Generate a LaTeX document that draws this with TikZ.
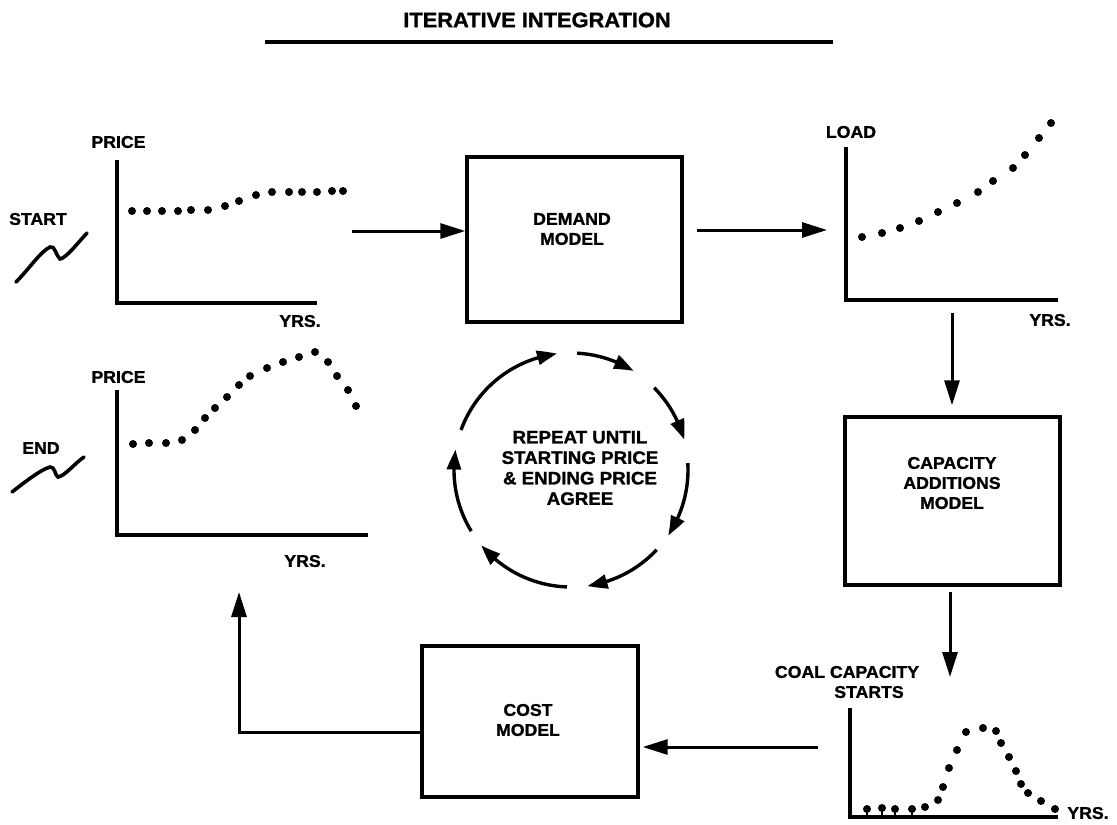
\documentclass[tikz,border=0pt]{standalone}
\usepackage{fontspec}
\setmainfont{Liberation Sans}[BoldFeatures={FakeBold=1.3,FakeStretch=1.04}]
\usetikzlibrary{arrows.meta,bending}
\begin{document}
\begin{tikzpicture}[x=1pt,y=-1pt,
  lbl/.style={font=\fontsize{17}{20}\selectfont\bfseries, inner sep=0pt, align=center},
  ttl/.style={font=\fontsize{21}{24}\selectfont\bfseries, inner sep=0pt},
  box/.style={draw, line width=3.4pt, rectangle, inner sep=0pt},
  axis/.style={line width=3.4pt, line join=miter},
  arr/.style={line width=3pt, line join=miter, -{Triangle[length=25pt,width=15pt]}},
  carr/.style={line width=3.4pt, -{Triangle[length=20pt,width=14pt,bend]}},
  squig/.style={line width=3.6pt, line cap=round},
  dotr/.style={radius=4},
]
\useasboundingbox (0,0) rectangle (1117,825);
\fill[white] (0,0) rectangle (1117,825);

% title
\node[ttl] (title) at (537,20) {ITERATIVE INTEGRATION};
\coordinate (tl) at (265,42);
\coordinate (tr) at (833,42);
\draw[line width=3.4pt] (tl) -- (tr);

% start chart
\node[lbl] (startlbl) at (38,219) {START};
\draw[squig] (16,282) .. controls (30,268) and (40,252) .. (50,247) .. controls (55,245) and (56,256) .. (60,259) .. controls (66,258) and (76,245) .. (87,233);
\node[lbl] (price1) at (118.5,142) {PRICE};
\node[lbl] (yrs1) at (300,321) {YRS.};
\draw[axis] (117,160) -- (117,303) -- (317,303);
\foreach \px/\py in {132/211,147/211,162/211,178/211,191/210,208/210,225/206,239/201,256/195,272/192,289/192,302/192,317/192,332/191,343/191}
  \fill (\px,\py) circle[dotr];

% end chart
\node[lbl] (endlbl) at (41,448) {END};
\draw[squig] (12,492) .. controls (25,482) and (40,470) .. (50,467) .. controls (55,466) and (55,476) .. (58,477) .. controls (65,476) and (75,463) .. (84,457);
\node[lbl] (price2) at (118.5,377) {PRICE};
\node[lbl] (yrs2) at (305,561) {YRS.};
\draw[axis] (117,390) -- (117,535) -- (368,535);
\foreach \px/\py in {133/444,149/443,166/443,182/440,195/430,205/418,215/408,227/397,239/385,250/376,267/368,283/362,299/357,315/352,328/362,337/376,348/390,356/406}
  \fill (\px,\py) circle[dotr];

% load chart
\node[lbl] (load) at (851,132) {LOAD};
\node[lbl] (yrs3) at (1050,320) {YRS.};
\draw[axis] (846,147) -- (846,300) -- (1058,300);
\foreach \px/\py in {862/237,882/233,900/228,919/221,938/212,957/203,978/192,993/181,1013/168,1025/155,1039/138,1051/123}
  \fill (\px,\py) circle[dotr];

% coal chart
\node[lbl] (coal) at (847,672) {COAL CAPACITY};
\node[lbl] (starts) at (869,692) {STARTS};
\node[lbl] (yrs4) at (1088,813) {YRS.};
\draw[axis] (850,708) -- (850,817) -- (1058,817);
\foreach \px/\py in {867/809,882/808,895/809,912/809}
  {\fill (\px,\py) circle[dotr]; \draw[line width=1.5pt] (\px,\py) -- (\px,816);}
\foreach \px/\py in {925/807,938/800,943/787,949/768,957/750,966/732,983/728,996/731,1001/743,1009/757,1016/771,1021/784,1028/793,1041/801,1055/809}
  \fill (\px,\py) circle[dotr];

% boxes
\node[box, minimum width=215pt, minimum height=165pt] (demand) at (574.5,239.5) {};
\node[lbl] (demandtxt) at (572,229) {DEMAND\\MODEL};
\node[box, minimum width=215pt, minimum height=168pt] (capacity) at (952.5,501) {};
\node[lbl] (capacitytxt) at (952,483) {CAPACITY\\ADDITIONS\\MODEL};
\node[box, minimum width=216pt, minimum height=151pt] (cost) at (530,721.5) {};
\node[lbl] (costtxt) at (528,720) {COST\\MODEL};

% connectors
\coordinate (s1) at (352,231);
\draw[arr] (s1) -- (s1 -| demand.west);
\coordinate (d1) at (697,230);
\coordinate (l1) at (827,230);
\draw[arr] (d1) -- (l1);
\coordinate (l2) at (952,313);
\draw[arr, shorten >=10pt] (l2) -- (l2 |- capacity.north);
\coordinate (c1) at (950,677);
\draw[arr, shorten <=5pt] (c1 |- capacity.south) -- (c1);
\coordinate (k1) at (818,747);
\draw[arr, shorten >=3pt] (k1) -- (k1 -| cost.east);
\coordinate (e2) at (239,732);
\coordinate (e1) at (239,592);
\draw[arr] (cost.west |- e2) -- (e2) -- (e1);

% cycle
\coordinate (cc) at (571,470);
\node[lbl, font=\fontsize{18}{20.5}\selectfont\bfseries] (repeat) at (580,468) {REPEAT UNTIL\\STARTING PRICE\\\& ENDING PRICE\\AGREE};
\foreach \s/\e in {-87/-57.7, -44.7/-15, -3.4/34, 43/82, 92/140, 148.5/190, -160/-96.8}
  \draw[carr] (cc) ++(\s:117) arc[start angle=\s, end angle=\e, radius=117];
\end{tikzpicture}
\end{document}
